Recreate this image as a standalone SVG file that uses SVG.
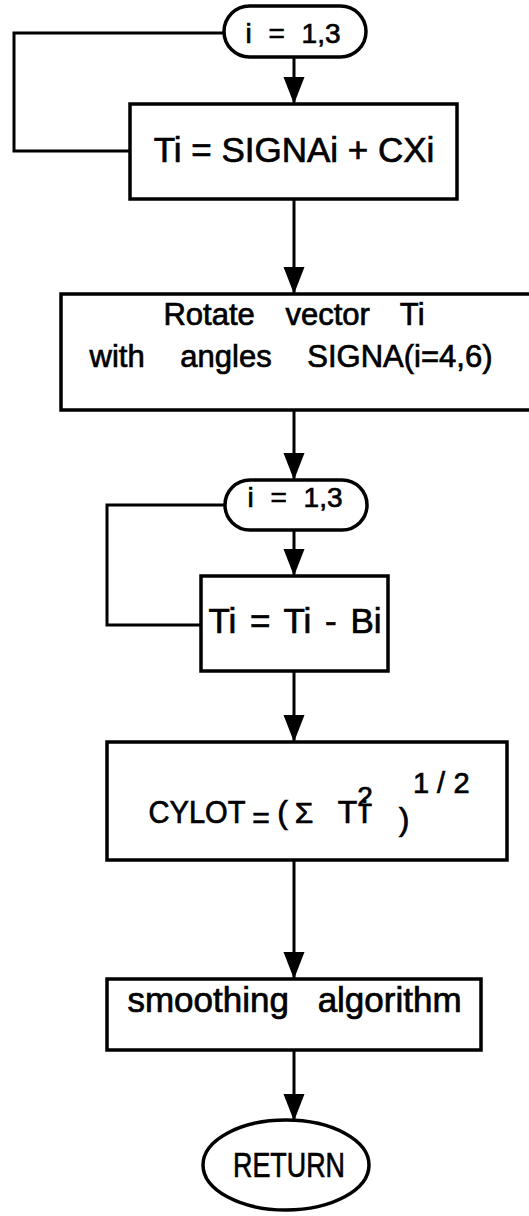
<svg xmlns="http://www.w3.org/2000/svg" width="529" height="1216" viewBox="0 0 529 1216">
<style>
.box{fill:#fff;stroke:#000;stroke-width:3.5}
.ln{fill:none;stroke:#000;stroke-width:3}
.t{font-family:"Liberation Sans",Arial,sans-serif;fill:#000;stroke:#000;stroke-width:0.7;text-anchor:middle}
</style>
<defs>
<marker id="ah" markerUnits="userSpaceOnUse" markerWidth="28" markerHeight="22" refX="27" refY="10.5" orient="auto">
<path d="M0,0 L27,10.5 L0,21 z" fill="#000"/>
</marker>
</defs>
<rect width="529" height="1216" fill="#fff"/>
<g id="connectors">
<path class="ln" d="M225,33 H14 V151 H130"/>
<path class="ln" d="M294,57 V104" marker-end="url(#ah)"/>
<path class="ln" d="M294,199 V294" marker-end="url(#ah)"/>
<path class="ln" d="M294,410 V480" marker-end="url(#ah)"/>
<path class="ln" d="M225,505 H107 V625 H201"/>
<path class="ln" d="M294,530 V576" marker-end="url(#ah)"/>
<path class="ln" d="M294,671 V742" marker-end="url(#ah)"/>
<path class="ln" d="M294,860 V979" marker-end="url(#ah)"/>
<path class="ln" d="M294,1050 V1121" marker-end="url(#ah)"/>
</g>
<g id="loop1">
<rect class="box" x="224" y="6" width="142" height="51" rx="25.5"/>
<text class="t" x="293" y="43" font-size="28" word-spacing="9">i = 1,3</text>
</g>
<g id="assignT">
<rect class="box" x="130" y="104" width="327" height="95"/>
<text class="t" x="294" y="162" font-size="35">Ti = SIGNAi + CXi</text>
</g>
<g id="rotate">
<rect class="box" x="61" y="294" width="480" height="116"/>
<text class="t" x="294" y="325" font-size="31" word-spacing="22">Rotate vector Ti</text>
<text class="t" x="291" y="367" font-size="31" word-spacing="27">with angles SIGNA(i=4,6)</text>
</g>
<g id="loop2">
<rect class="box" x="225" y="480" width="142" height="50" rx="25"/>
<text class="t" x="295" y="507" font-size="28" word-spacing="9">i = 1,3</text>
</g>
<g id="subtractB">
<rect class="box" x="201" y="576" width="187" height="95"/>
<text class="t" x="295" y="633" font-size="35" word-spacing="4">Ti = Ti - Bi</text>
</g>
<g id="cylot">
<rect class="box" x="107" y="742" width="400" height="118"/>
<text class="t" x="197" y="823" font-size="32" textLength="97" lengthAdjust="spacingAndGlyphs">CYLOT</text>
<text class="t" x="261" y="828" font-size="30">=</text>
<text class="t" x="282.5" y="823" font-size="32">(</text>
<text class="t" x="304" y="823" font-size="30">Σ</text>
<text class="t" x="347.5" y="823" font-size="32">T</text>
<text class="t" x="364.5" y="823" font-size="32">i</text>
<text class="t" x="365" y="806" font-size="28">2</text>
<text class="t" x="404" y="830" font-size="32">)</text>
<text class="t" x="421" y="793" font-size="29">1</text>
<text class="t" x="441" y="793" font-size="29">/</text>
<text class="t" x="461.5" y="793" font-size="29">2</text>
</g>
<g id="smoothing">
<rect class="box" x="107" y="979" width="374" height="71"/>
<text class="t" x="294.5" y="1012" font-size="35" word-spacing="19">smoothing algorithm</text>
</g>
<g id="return">
<ellipse class="box" cx="286" cy="1165" rx="83" ry="45"/>
<text class="t" x="289" y="1177" font-size="35" textLength="112" lengthAdjust="spacingAndGlyphs">RETURN</text>
</g>
</svg>
